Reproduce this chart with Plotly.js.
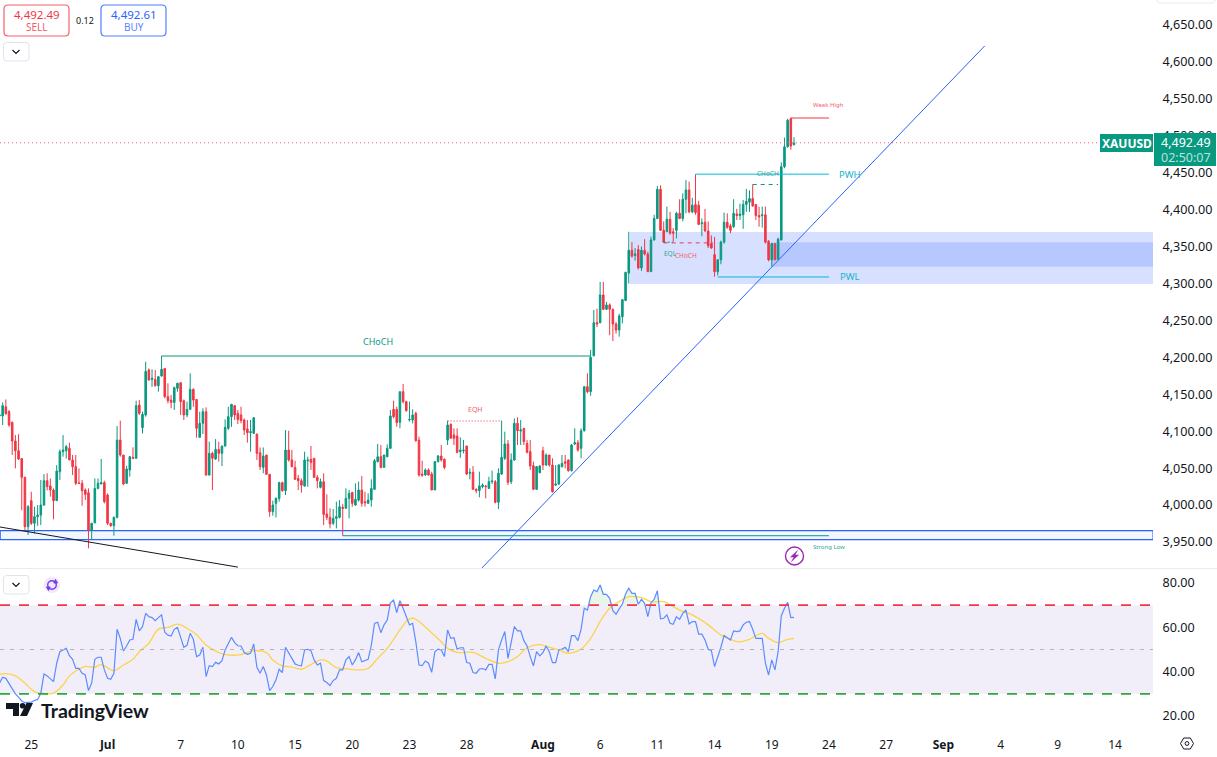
<!DOCTYPE html>
<html><head><meta charset="utf-8">
<script src="https://cdn.plot.ly/plotly-3.0.1.min.js"></script>
<style>html,body{margin:0;padding:0;background:#fff;overflow:hidden}#c{width:1217px;height:757px}</style>
</head><body><div id="c"></div>
<script>
const open_=[4120.6,4120.6,4133,4126.4,4112,4086.7,4073.6,4063,4037.5,3970.7,
4006,3975.3,3984.3,3986.5,4000,4033,4025.8,4020.4,4006,4045,
4072.3,4073.6,4076.8,4061,4052,4030,4029.4,4020.4,4016.8,3966,
3976,4022.6,4028.5,4030.3,4013.6,3975.3,3972,3983.4,4088,4067.8,
4029.4,4047.5,4064.6,4063.3,4135.5,4104.8,4122,4182.9,4170,4170,
4161.6,4174.7,4185,4146.8,4142.2,4139,4158,4165.7,4141.3,4122,
4129.6,4156.7,4143,4091.7,4110.7,4126.4,4040.7,4070,4062.4,4075.4,
4070,4080,4103.9,4119.7,4134.6,4124.2,4122,4115.2,4103,4098,
4097,4096.2,4071,4051,4067.8,4041.6,3991,4002.3,4009,4030.3,
4019.5,4074.5,4061,4051,4036,4033,4025.8,4060,4061.9,4063.3,
4037.5,4024,4031.7,3987.9,3983.4,3975.3,3982,3983.4,3997,3995.6,
4009,4017,4000,4006.8,4020.4,4004.6,4002.3,4006.8,4021.3,4058.8,
4065.5,4051,4065.5,4076.8,4129.6,4129.6,4112,4153.5,4140,4115.2,
4115.2,4124.2,4088,4042,4040.7,4047.5,4042,4020.4,4058.8,4066.4,
4061.9,4088,4109.3,4094.9,4093.5,4072.3,4073.6,4080,4043,4044.3,
4021.3,4019.5,4025,4025.8,4022.6,4031.7,4031.7,4003.7,4042,4063.3,
4082.7,4031.7,4061,4110.7,4100.3,4103.9,4083.6,4072.3,4053.3,4021.3,
4043.9,4073.6,4054.2,4067.8,4054.2,4027,4028.5,4052,4058.8,4061,
4046.6,4082.7,4084.5,4076.8,4100.7,4160.3,4153.5,4202,4247,4247,
4284.5,4265,4271,4265,4245,4237,4255,4277,4314,4345,
4338,4346,4321,4345,4340,4316,4359,4388,4427.5,4372,
4370,4387,4370,4372,4395,4388,4414,4426.6,4397,4407,
4406,4381,4383,4371,4354,4339,4316,4332,4356,4383,
4378,4377,4394,4392,4393,4407,4410,4415,4407,4392,
4392,4393,4357,4332,4354,4333,4359,4458,4485,4523,4488];
const close_=[4122,4134.6,4124,4108.4,4086.7,4073.6,4062.4,4037.5,3970.7,3997.8,
3975.3,3984.3,3986.5,4000,4033,4025,4020.4,4006,4046,4072.3,
4074.5,4079,4061,4052,4029.4,4029.4,4019.5,4014.5,3966,3975.3,
4022.6,4029.4,4030.3,4004.6,3975.3,3972,3983.4,4088,4067.8,4028.5,
4048.8,4065.5,4063.3,4134.6,4124.2,4122.8,4181,4169.3,4171.6,4161.6,
4173.8,4183.8,4146.8,4141.3,4139,4159,4164.8,4140,4122,4129.6,
4156.7,4142.2,4103.9,4110.7,4126.4,4040.7,4070,4063.3,4075.4,4070,
4080,4105.2,4119.7,4136.4,4122,4116,4114.3,4101.6,4098,4099.4,
4118.3,4070,4052,4066.4,4041.6,3991,4000,4009,4030.3,4019.5,
4074.5,4061,4052,4034.8,4033,4027,4061,4061,4057.8,4037.5,
4033,4031.7,3987.4,3983.4,3974.4,3982,3984.3,3997.8,3995.6,4009,
4015.9,4002.3,4007.7,4020.4,4002.3,4003.2,4006.8,4022.6,4060,4065.5,
4051,4067.8,4076.8,4120.6,4119.7,4111.6,4153.5,4140,4127.8,4116,
4122,4087.2,4040.7,4040.3,4047.5,4040.7,4020.4,4058.8,4066.4,4061,
4051,4108.4,4090.4,4090.4,4071.4,4074.5,4074.5,4042,4044.3,4021.3,
4019.5,4025.8,4027.2,4025,4031.7,4032.6,4003.7,4043,4064.6,4082.7,
4030.8,4061,4110.7,4100.7,4101.6,4085.8,4071.4,4052.9,4021.3,4052,
4052.9,4054.2,4067.8,4054.2,4018,4028.5,4054.2,4056.5,4056.5,4046.6,
4081.3,4084.5,4074.5,4100.7,4160.3,4153.5,4200,4247,4245,4284.5,
4265,4271,4265,4245,4237,4256,4278,4315,4345,4337,
4340,4321,4345,4340,4316,4359,4388,4427.5,4372,4356,
4387,4368,4368,4395,4388,4414,4426.6,4397,4406,4396,
4380,4382,4371,4351,4348,4316,4332,4356,4383,4376,
4372,4395,4392,4394,4407,4411,4415,4405,4392,4390,
4393,4356,4332,4354,4332,4360,4458,4485,4521,4486,4490];
const high_=[4124,4139,4143,4128.7,4113,4094.9,4096,4063,4038.4,4000,
4018,3997.8,4000,4034,4042,4043,4036,4022.6,4054,4075.4,
4094.8,4081.3,4084.5,4067.8,4067.8,4049.7,4034,4022.6,4022.6,3976,
4036,4036,4062.4,4033,4015.9,3976,3984.3,4107,4114.3,4067.8,
4052.9,4066.4,4078.2,4141.3,4142.2,4126.4,4194,4185,4183.8,4182.9,
4174.7,4202,4185,4164.8,4149,4160.3,4165.7,4165.7,4143,4140,
4178.4,4158,4143,4126.4,4131,4132.3,4085.8,4072.3,4089.4,4085.8,
4080,4116,4133.2,4136.4,4135.5,4128.7,4133.2,4117.4,4115.2,4115.2,
4118.8,4096.2,4078,4078,4067.8,4041.6,4006,4010.5,4031.7,4031.7,
4101.6,4100.7,4074.5,4060,4040.7,4036,4072.3,4065.5,4080,4063.3,
4040.7,4036,4043,4014.5,3995.6,3994.7,4004.6,4006.8,4001.4,4022.6,
4020.4,4018,4029.4,4031.7,4039.3,4018,4015.9,4034.8,4062.4,4082.7,
4081.3,4067.8,4082.2,4128.7,4141.3,4133.2,4153.5,4163.9,4141.3,4140,
4129.6,4126.4,4092.6,4060,4049.7,4049.7,4045.2,4059.7,4067.8,4081.3,
4063.3,4114.3,4110.7,4103.9,4103.9,4091.7,4088,4080,4049.7,4052.9,
4022.6,4045.2,4029.4,4027.2,4038.4,4046.6,4034,4049.7,4114.3,4099.4,
4088,4070,4117.4,4118.8,4115.2,4103.9,4088,4088,4058.8,4052.9,
4054.2,4079,4070,4067.8,4063.3,4054.2,4055.6,4067.8,4067.8,4061.9,
4082.7,4103.9,4088,4103.9,4160.3,4178.4,4210,4264,4266,4302,
4302,4275,4273,4266,4248,4259,4279,4316,4370,4356,
4348,4352,4350,4360,4343,4363.5,4393,4432,4433,4384,
4404,4397,4375,4397,4414,4422,4440,4438,4416,4448,
4412,4388,4401,4384,4365,4363,4333,4358,4396,4395,
4381,4414,4401,4408,4413,4428,4426,4434,4407,4404,
4404,4404,4359,4355,4354,4362,4464,4497.5,4523,4524.6,4498];
const low_=[4090.4,4108.4,4122,4106,4067.8,4049.7,4061,3993,3965.3,3959.5,
3973,3961.7,3972,3973,3999,4020,4011.4,3980.7,4006,4034,
4065.5,4063,4061,4040.7,4027,4028.5,3999,4006.8,3941.4,3952.7,
3975.3,4021.3,4028.5,4002.3,3973,3970.7,3958.6,3982,4065.5,4027,
4028.5,4038.4,4063.3,4063.3,4122,4097,4119.7,4168.4,4160,4160.3,
4153.5,4173.8,4144.5,4137.7,4131,4128.7,4153.5,4122,4115.2,4118.8,
4128.7,4133,4091.2,4091.7,4096.2,4039.8,4039.8,4020.4,4061,4058.8,
4052.9,4079,4101.6,4106,4115.2,4109.7,4110.6,4094.9,4084.5,4072.3,
4097,4061,4047.5,4043,4040.7,3984.3,3985.6,3983.4,4004.6,4018,
4013.6,4058.8,4051,4034.8,4020.4,4016.8,4024.9,4024.9,4047.5,4037.5,
4022.6,4022.6,3973,3979.8,3968.5,3973,3968.5,3982,3958.6,3995.6,
3982,3997.8,3999,4004.6,3997.8,3997.8,4003,3997.8,4021.3,4057.8,
4049.7,4051,4064.6,4075.9,4117.4,4106,4103.9,4137.7,4126.4,4112.9,
4110.6,4085.8,4038.4,4038.4,4039.8,4039.8,4020.4,4020.4,4057.8,4058.8,
4048.4,4081.3,4090.4,4081.3,4070,4064,4070,4040.7,4034.8,4020.4,
4015.9,4010.5,4022.6,4009,4021.7,4028.5,4002.3,3994.7,4040.7,4061,
4027.2,4028.5,4060,4081.3,4081.3,4081.3,4070,4047.5,4020.4,4020.4,
4043,4047.5,4052.9,4052,4016.8,4025.8,4027,4051,4049.7,4045.2,
4045.2,4081.3,4072.3,4063.3,4099.4,4151.3,4148,4202,4241,4246,
4264,4264,4230,4222,4232,4228,4246,4276,4300,4335,
4331,4319,4317,4338,4316,4316,4358,4387,4371,4355,
4370,4366,4357,4361,4387,4384,4395,4395,4395,4393,
4379,4364,4370,4348,4347,4309,4311,4326,4354,4374,
4368,4375,4386,4386,4374,4397,4397,4404,4386,4377,
4375.6,4354,4330,4323,4332,4332,4358,4456,4484,4481,4487];
const rsi=[34.8,37.5,37.0,34.5,32.1,30.0,28.5,26.8,26.0,26.0,
26.3,27.0,27.5,30.3,39.0,38.1,37.0,35.5,43.8,49.0,
49.8,50.5,47.2,45.6,41.5,41.5,39.3,38.5,31.5,34.8,
45.6,46.5,46.5,40.8,37.0,36.6,39.3,59.1,55.0,49.3,
51.6,54.3,54.6,63.6,58.4,60.3,66.3,64.8,64.4,63.0,
64.4,65.6,57.8,56.5,56.1,59.1,60.0,55.0,51.0,51.9,
57.3,54.6,46.8,47.5,51.0,37.8,42.7,42.3,44.2,43.5,
45.0,49.8,52.8,55.5,53.1,51.7,51.6,48.6,47.8,48.3,
52.5,42.0,39.3,42.3,38.5,31.5,33.3,36.3,41.1,39.6,
51.0,48.3,45.6,43.5,42.9,42.6,49.8,50.1,49.5,45.3,
43.0,43.8,36.0,35.1,33.7,36.0,37.0,40.8,40.8,45.3,
46.8,43.0,45.3,48.6,44.5,45.0,45.6,52.0,61.8,62.3,
57.6,61.1,63.3,71.1,72.3,66.6,72.0,
68.6,65.1,61.1,61.8,53.5,43.0,42.7,44.8,43.8,39.7,
49.0,50.2,49.8,46.8,58.8,55.0,55.3,50.2,50.8,50.8,
44.1,43.8,39.6,39.3,41.2,41.4,40.8,43.3,43.3,36.7,
49.8,54.3,58.1,46.0,52.8,60.3,58.4,58.4,54.0,51.6,
46.8,42.6,49.0,47.1,48.6,51.6,49.0,44.1,44.1,49.8,
50.2,51.0,49.0,56.3,56.3,54.0,59.1,68.6,67.8,73.8,
76.8,76.1,79.1,74.9,74.9,73.1,67.5,65.9,68.3,70.5,
75.0,77.6,75.3,75.3,70.4,72.6,70.8,64.8,71.1,72.6,
76.5,63.8,64.1,65.6,61.8,61.4,64.8,63.6,66.3,67.8,
61.5,62.6,62.6,56.9,56.9,54.3,50.1,49.5,42.3,46.5,
51.0,56.3,55.3,54.3,58.4,58.1,58.4,61.1,62.3,62.6,
59.1,55.0,55.0,55.0,43.8,38.5,45.3,40.8,49.0,65.1,
68.6,71.3,64.4,64.5];
const maBar=[0,2,5,8,11,14,17,20,22,25,27,30,32,36,39,42,44,47,50,53,56,59,62,65,68,71,76,80,84,86,89,92,95,98,101,103,106,109,112,116,119,122,126,
128,130,132,135,139,141,144,149,153,157,160,163,166,170,173,176,179,183,186,189,192,195,198,202,205,209,212,215,218,223,227,230,233,236,240,242,245,248,250];
const maVal=[38.8,39.1,38.1,34.8,31.0,30.1,30.3,34.0,38.1,41.1,42.4,42.0,43.2,40.5,43.0,45.6,49.0,52.8,59.2,60.0,61.4,59.6,56.6,52.0,49.3,47.7,47.7,49.5,48.6,45.3,42.6,42.1,41.1,43.2,45.3,44.8,41.8,41.4,40.8,41.5,46.0,50.5,58.8,
62.6,64.2,62.6,58.8,53.5,50.5,48.7,48.7,46.0,43.8,44.5,46.8,50.8,52.2,51.0,49.8,48.3,50.2,55.0,62.6,68.6,71.6,73.8,73.4,71.6,71.6,69.3,67.1,65.6,61.1,56.5,54.6,53.4,54.6,57.3,55.0,53.1,54.6,55.0];
const timeTickBars=[10,34,57,75,93,111,129,147,171,189,207,225,243,261,279,297,315,333,351];
const timeTickText=['25','<b>Jul</b>','7','10','15','20','23','28','<b>Aug</b>','6','11','14','19','24','27','<b>Sep</b>','4','9','14'];
const priceTicks=[3950,4000,4050,4100,4150,4200,4250,4300,4350,4400,4450,4500,4550,4600,4650];
const rsiTicks=[20,40,60,80];
const lastLine=4490.5;

const UP='#089981',DOWN='#f23645',BLUE='#2962ff',CYAN='#00bcd4',INK='#131722';
const FONT='"Noto Sans", "Open Sans", sans-serif';
const PW=1153,PH=730;
const px=v=>v/PW, py=v=>1-v/PH;
const bars=open_.map((_,i)=>i);

const traces=[
 {type:'candlestick',x:bars,open:open_,high:high_,low:low_,close:close_,xaxis:'x',yaxis:'y',
  increasing:{line:{color:UP,width:1},fillcolor:UP},decreasing:{line:{color:DOWN,width:1},fillcolor:DOWN},
  whiskerwidth:0,hoverinfo:'skip',showlegend:false},
 {type:'scatter',mode:'lines',x:bars,y:rsi.map(()=>70),xaxis:'x',yaxis:'y2',line:{width:0},hoverinfo:'skip',showlegend:false},
 {type:'scatter',mode:'lines',x:bars,y:rsi.map(v=>Math.max(v,70)),xaxis:'x',yaxis:'y2',line:{width:0},fill:'tonexty',fillcolor:'rgba(76,175,80,0.13)',hoverinfo:'skip',showlegend:false},
 {type:'scatter',mode:'lines',x:maBar,y:maVal,xaxis:'x',yaxis:'y2',line:{color:'#fcd34d',width:1.3,shape:'spline'},hoverinfo:'skip',showlegend:false},
 {type:'scatter',mode:'lines',x:bars,y:rsi,xaxis:'x',yaxis:'y2',line:{color:'#5b8cff',width:1.2},hoverinfo:'skip',showlegend:false}
];

function line(x0,y0,x1,y1,color,width,dash){return {type:'line',xref:'x',yref:'y',x0,y0,x1,y1,line:{color,width,dash:dash||'solid'}};}
function zone(x0,y0,x1,y1,fill,lc){return {type:'rect',layer:'below',xref:'x',yref:'y',x0,y0,x1,y1,fillcolor:fill,line:{width:lc?1.3:0,color:lc||'rgba(0,0,0,0)'}};}
function rr(x0,y0,x1,y1,r,stroke,fill,w){
 const X=v=>px(v),Y=v=>py(v);
 const p=`M ${X(x0+r)} ${Y(y0)} L ${X(x1-r)} ${Y(y0)} Q ${X(x1)} ${Y(y0)} ${X(x1)} ${Y(y0+r)} L ${X(x1)} ${Y(y1-r)} Q ${X(x1)} ${Y(y1)} ${X(x1-r)} ${Y(y1)} L ${X(x0+r)} ${Y(y1)} Q ${X(x0)} ${Y(y1)} ${X(x0)} ${Y(y1-r)} L ${X(x0)} ${Y(y0+r)} Q ${X(x0)} ${Y(y0)} ${X(x0+r)} ${Y(y0)} Z`;
 return {type:'path',xref:'paper',yref:'paper',path:p,line:{color:stroke,width:w||1},fillcolor:fill||'#fff'};
}
function poly(pts,stroke,fill,w,closed){
 const p=pts.map((q,i)=>(i?'L ':'M ')+px(q[0])+' '+py(q[1])).join(' ')+(closed?' Z':'');
 return {type:'path',xref:'paper',yref:'paper',path:p,line:{color:stroke||'rgba(0,0,0,0)',width:w||0},fillcolor:fill||'rgba(0,0,0,0)'};
}
function circ(cx,cy,r,stroke,fill,w){return {type:'circle',xref:'paper',yref:'paper',x0:px(cx-r),x1:px(cx+r),y0:py(cy+r),y1:py(cy-r),line:{color:stroke||'rgba(0,0,0,0)',width:w||0},fillcolor:fill||'rgba(0,0,0,0)'};}
function rectP(x0,y0,x1,y1,fill){return {type:'rect',xref:'paper',yref:'paper',x0:px(x0),x1:px(x1),y0:py(y0),y1:py(y1),fillcolor:fill,line:{width:0}};}
function hl(x0,x1,y,c){return {type:'line',xref:'paper',yref:'paper',x0:px(x0),x1:px(x1),y0:py(y),y1:py(y),line:{color:c,width:1}};}

const shapes=[
 {type:'rect',layer:'below',xref:'paper',yref:'y2',x0:0,x1:1,y0:30,y1:70,fillcolor:'rgba(126,87,194,0.1)',line:{width:0}},
 {type:'line',xref:'paper',yref:'y2',x0:0,x1:1,y0:70,y1:70,line:{color:DOWN,width:1.6,dash:'10px 9px'}},
 {type:'line',xref:'paper',yref:'y2',x0:0,x1:1,y0:50,y1:50,line:{color:'#b5b5bb',width:1,dash:'4px 6px'}},
 {type:'line',xref:'paper',yref:'y2',x0:0,x1:1,y0:30,y1:30,line:{color:'#2ea83e',width:1.6,dash:'10px 9px'}},
 zone(198.4,4299.3,363,4369.7,'rgba(41,98,255,0.19)'),
 zone(243,4322.7,363,4355.8,'rgba(41,98,255,0.19)'),
 zone(0.2,3953.3,363,3965.5,'rgba(41,98,255,0.06)',BLUE),
 line(0.16,3970.3,75,3916,INK,1),
 line(151.8,3914.8,310,4621.6,BLUE,1),
 line(51,4201.8,186,4201.8,UP,1),
 line(108,3958.5,261,3958.5,UP,1),
 line(141,4113.8,158,4113.8,DOWN,1,'1px 2px'),
 line(219,4448,261,4448,CYAN,1),
 line(226,4308.8,261,4308.8,CYAN,1),
 line(249,4524,261,4524,DOWN,1),
 line(237,4434,245,4434,UP,1,'4px 4px'),
 line(209,4355,224.5,4355,DOWN,1,'4px 4px'),
 line(209,4356,212,4356,UP,1,'2px 2px'),
 line(0.16,lastLine,345.8,lastLine,'#f4606e',1,'1px 3px'),
 hl(0,1217,568.5,'#e9ebf0'),
 rectP(1100,134,1153,152,UP),
 rectP(1154,133,1216,166,UP),
 rr(4,5,69,36,4,'#f7606c','#fff',1.2),
 rr(101,5,166,36,4,'#4f7dff','#fff',1.2),
 rr(1157,-6,1215,3,3,'#e9ebf0','#fff',1),
 rr(3.5,42.5,29,61,3,'#e0e3eb','#fff',1),
 poly([[12.5,50],[16,53.5],[19.5,50]],INK,null,1.2),
 rr(3.5,575.5,29,594,3,'#e0e3eb','#fff',1),
 poly([[12.5,583],[16,586.5],[19.5,583]],INK,null,1.2),
 circ(52,585,8,null,'#eee9f8'),
 circ(52,585,4.3,'#7c3aed',null,1.4),
 poly([[55.5,579.5],[57.5,583],[53.8,583]],'#7c3aed','#7c3aed',1,true),
 poly([[48.5,590.5],[46.5,587],[50.2,587]],'#7c3aed','#7c3aed',1,true),
 circ(794.5,556,9,'#9c27b0','#fff',1.4),
 poly([[797.5,550.5],[790.5,557],[794,557],[791.5,561.5],[798.5,555],[795,555]],'#9c27b0','#9c27b0',0.5,true),
 poly([[6,703],[19,703],[19,716],[13,716],[13,709],[6,709]],null,INK,0,true),
 circ(22.6,705.8,2.8,null,INK),
 poly([[26.5,703],[33,703],[27,716],[20,716]],null,INK,0,true),
 poly([[1180.5,743.5],[1183.7,738],[1190.3,738],[1193.5,743.5],[1190.3,749],[1183.7,749]],INK,'#fff',1,true),
 circ(1187,743.5,1.9,INK,'#fff',1)
];

function lab(i,p,t,size,color){return {xref:'x',yref:'y',x:i,y:p,text:t,showarrow:false,xanchor:'center',yanchor:'middle',font:{family:FONT,size,color}};}
function labP(x,y,t,size,color,anchor,bold,fam){return {xref:'paper',yref:'paper',x:px(x),y:py(y),text:bold?`<b>${t}</b>`:t,showarrow:false,xanchor:anchor||'center',yanchor:'middle',font:{family:fam||FONT,size,color}};}
const annotations=[
 lab(119,4221,'CHoCH',9,'#0a9a82'),
 lab(149.8,4130,'EQH',7,'#f45b69'),
 lab(261,4542,'Weak High',6,'#f45b69'),
 lab(261,3943,'Strong Low',6,'#2fa893'),
 lab(267.5,4448,'PWH',9.5,'#17b3cc'),
 lab(267.5,4309.5,'PWL',9.5,'#17b3cc'),
 lab(241.8,4449,'CHoCH',6.5,'#2fa893'),
 lab(211,4341,'EQL',6.5,'#2fa893'),
 lab(216,4338,'CHoCH',6.5,'#f45b69'),
 labP(36.5,14,'4,492.49',11.5,'#f23645'),
 labP(36.5,27,'SELL',10,'#f45b69'),
 labP(85,20,'0.12',9,INK),
 labP(133.5,14,'4,492.61',11.5,BLUE),
 labP(133.5,27,'BUY',10,'#5a86ff'),
 labP(1126.5,143,'XAUUSD',12,'#fff',null,true),
 labP(1186,142.5,'4,492.49',12.5,'#fff'),
 labP(1186,157,'02:50:07',12.5,'#b9e3da'),
 labP(38.5,710,'TradingView',19.5,INK,'left',true,'Lato, "Noto Sans", sans-serif')
];

const layout={
 width:1217,height:757,margin:{l:0,r:64,t:0,b:27,pad:0},paper_bgcolor:'#fff',plot_bgcolor:'#fff',showlegend:false,
 font:{family:FONT,size:13,color:INK},
 xaxis:{domain:[0,1],anchor:'y2',range:[0.16,362.96],tickmode:'array',tickvals:timeTickBars,ticktext:timeTickText,
  showgrid:false,zeroline:false,showline:false,ticks:'outside',ticklen:4,tickcolor:'rgba(0,0,0,0)',tickfont:{family:FONT,size:12,color:INK},rangeslider:{visible:false},fixedrange:true},
 yaxis:{domain:[(PH-568)/PH,1],anchor:'x',side:'right',range:[3914.8,4683.8],tickmode:'array',tickvals:priceTicks,tickformat:',.2f',
  showgrid:false,zeroline:false,showline:false,ticks:'outside',ticklen:6,tickcolor:'rgba(0,0,0,0)',tickfont:{family:FONT,size:12.6,color:INK},fixedrange:true},
 yaxis2:{domain:[0,(PH-569)/PH],anchor:'x',side:'right',range:[13.7,86.3],tickmode:'array',tickvals:rsiTicks,tickformat:'.2f',
  showgrid:false,zeroline:false,showline:false,ticks:'outside',ticklen:6,tickcolor:'rgba(0,0,0,0)',tickfont:{family:FONT,size:12.6,color:INK},fixedrange:true},
 shapes,annotations
};
Plotly.newPlot('c',traces,layout,{displayModeBar:false,staticPlot:true});
</script></body></html>
